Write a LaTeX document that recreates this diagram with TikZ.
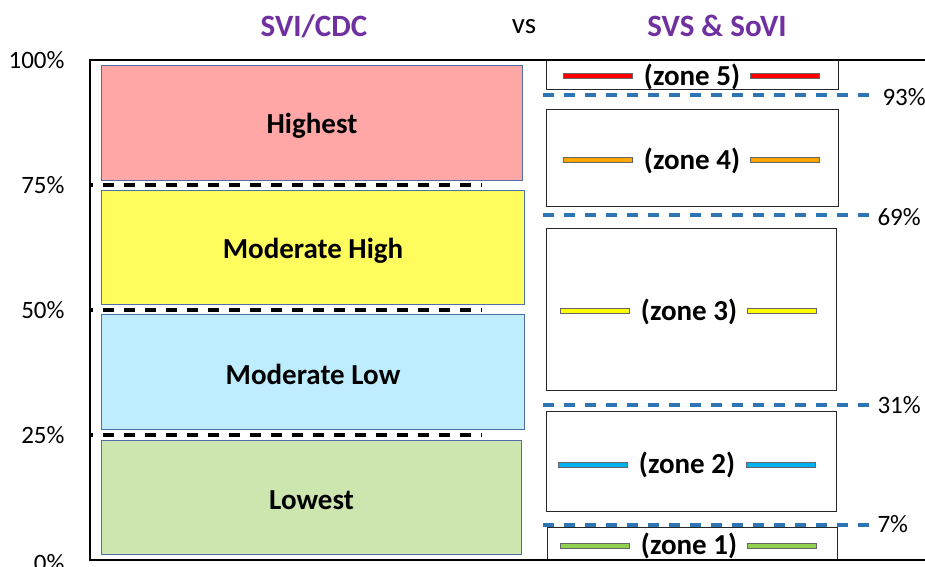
\documentclass[tikz,border=0pt]{standalone}
\usepackage{fontspec}
\setmainfont{Carlito}
\definecolor{ttl}{HTML}{7030A0}
\definecolor{bdr}{HTML}{4F6FA8}
\definecolor{cHigh}{HTML}{FFA6A6}
\definecolor{cMH}{HTML}{FFFC5E}
\definecolor{cML}{HTML}{BDEDFE}
\definecolor{cLow}{HTML}{CDE6B0}
\definecolor{dblue}{HTML}{2E75B6}
\definecolor{z5}{HTML}{FF0000}
\definecolor{z4}{HTML}{FFA500}
\definecolor{z3}{HTML}{FFFF00}
\definecolor{z2}{HTML}{00B0F0}
\definecolor{z1}{HTML}{92D050}
\begin{document}
\begin{tikzpicture}[x=1pt,y=-1pt,
  cbox/.style={draw=bdr,line width=1pt,anchor=north west,inner sep=0pt},
  zbox/.style={draw=black!85,line width=1.3pt,anchor=north west,inner sep=0pt},
  lbl/.style={font=\fontsize{29}{31}\selectfont\bfseries},
  ztxt/.style={font=\fontsize{29}{31}\selectfont\bfseries},
  pct/.style={font=\fontsize{25}{27}\selectfont},
  ttxt/.style={font=\fontsize{31}{33}\selectfont\bfseries,text=ttl},
  bar/.style={draw=black!60,line width=0.5pt,minimum width=69pt,minimum height=5pt,inner sep=0pt},
  bdash/.style={line width=3.5pt,dash pattern=on 11pt off 10pt,dash phase=8pt},
  udash/.style={dblue,line width=3.3pt,dash pattern=on 11pt off 10pt}]
\useasboundingbox (0,0) rectangle (925,566);
% titles
\node[ttxt] (t1) at (314,26) {SVI/CDC};
\node[font=\fontsize{29}{31}\selectfont] (t2) at (524,27) {vs};
\node[ttxt] (t3) at (717,26) {SVS \& SoVI};
% axis labels
\node[pct,anchor=east] (p100) at (68,60) {100\%};
\node[pct,anchor=east] (p75) at (68,185) {75\%};
\node[pct,anchor=east] (p50) at (68,310) {50\%};
\node[pct,anchor=east] (p25) at (68,435) {25\%};
\node[pct,anchor=east] (p0) at (68,563) {0\%};
% left boxes
\node[cbox,fill=cHigh,minimum width=421pt,minimum height=115pt] (hi) at (101,65) {};
\node[lbl] at ([yshift=-3pt]hi.center) {Highest};
\node[cbox,fill=cMH,minimum width=423pt,minimum height=114pt] (mh) at (101,190) {};
\node[lbl] at ([yshift=-3pt]mh.center) {Moderate High};
\node[cbox,fill=cML,minimum width=423pt,minimum height=115pt] (ml) at (101,314) {};
\node[lbl] at ([yshift=-2pt]ml.center) {Moderate Low};
\node[cbox,fill=cLow,minimum width=420pt,minimum height=114pt] (lo) at (101,440) {};
\node[lbl] at ([yshift=-3pt]lo.center) {Lowest};
% black dashed
\coordinate (b75a) at (90,185); \coordinate (b75b) at (482,185);
\coordinate (b50a) at (90,310); \coordinate (b50b) at (482,310);
\coordinate (b25a) at (90,435); \coordinate (b25b) at (482,435);
\draw[bdash] (b75a) -- (b75b);
\draw[bdash] (b50a) -- (b50b);
\draw[bdash] (b25a) -- (b25b);
% zone boxes
\node[zbox,minimum width=292pt,minimum height=29pt] (zb5) at (546,60) {};
\node[zbox,minimum width=292pt,minimum height=97pt] (zb4) at (546,109) {};
\node[zbox,minimum width=290pt,minimum height=162pt] (zb3) at (546,228) {};
\node[zbox,minimum width=290pt,minimum height=100pt] (zb2) at (546,411) {};
\node[zbox,minimum width=290pt,minimum height=33pt] (zb1) at (547,527) {};
% zone texts and bars
\node[ztxt] (zt5) at (692,77) {(zone 5)};
\node[bar,fill=z5] (r5a) at (598,76) {}; \node[bar,fill=z5] (r5b) at (785,76) {};
\node[ztxt] (zt4) at (692,161) {(zone 4)};
\node[bar,fill=z4] (r4a) at (598,160) {}; \node[bar,fill=z4] (r4b) at (785,160) {};
\node[ztxt] (zt3) at (689,312) {(zone 3)};
\node[bar,fill=z3] (r3a) at (595,311) {}; \node[bar,fill=z3] (r3b) at (782,311) {};
\node[ztxt] (zt2) at (687,465) {(zone 2)};
\node[bar,fill=z2] (r2a) at (593,465) {}; \node[bar,fill=z2] (r2b) at (781,465) {};
\node[ztxt] (zt1) at (689,546) {(zone 1)};
\node[bar,fill=z1] (r1a) at (595,546) {}; \node[bar,fill=z1] (r1b) at (782,546) {};
% blue dashed
\node[pct,anchor=west] (q93) at (879,97) {93\%};
\node[pct,anchor=west] (q69) at (874,217) {69\%};
\node[pct,anchor=west] (q31) at (874,405) {31\%};
\node[pct,anchor=west] (q7) at (874,524) {7\%};
\coordinate (u93) at (543,95); \coordinate (v93) at (871,95);
\coordinate (u69) at (543,215); \coordinate (v69) at (871,215);
\coordinate (u31) at (543,405); \coordinate (v31) at (871,405);
\coordinate (u7) at (543,525); \coordinate (v7) at (871,525);
\draw[udash] (u93) -- (v93);
\draw[udash] (u69) -- (v69);
\draw[udash] (u31) -- (v31);
\draw[udash] (u7) -- (v7);
% frame
\coordinate (f1) at (925,60); \coordinate (f2) at (90,60);
\coordinate (f3) at (90,560); \coordinate (f4) at (925,560);
\draw[line width=2.5pt] (f1) -- (f2) -- (f3) -- (f4);
\end{tikzpicture}
\end{document}
